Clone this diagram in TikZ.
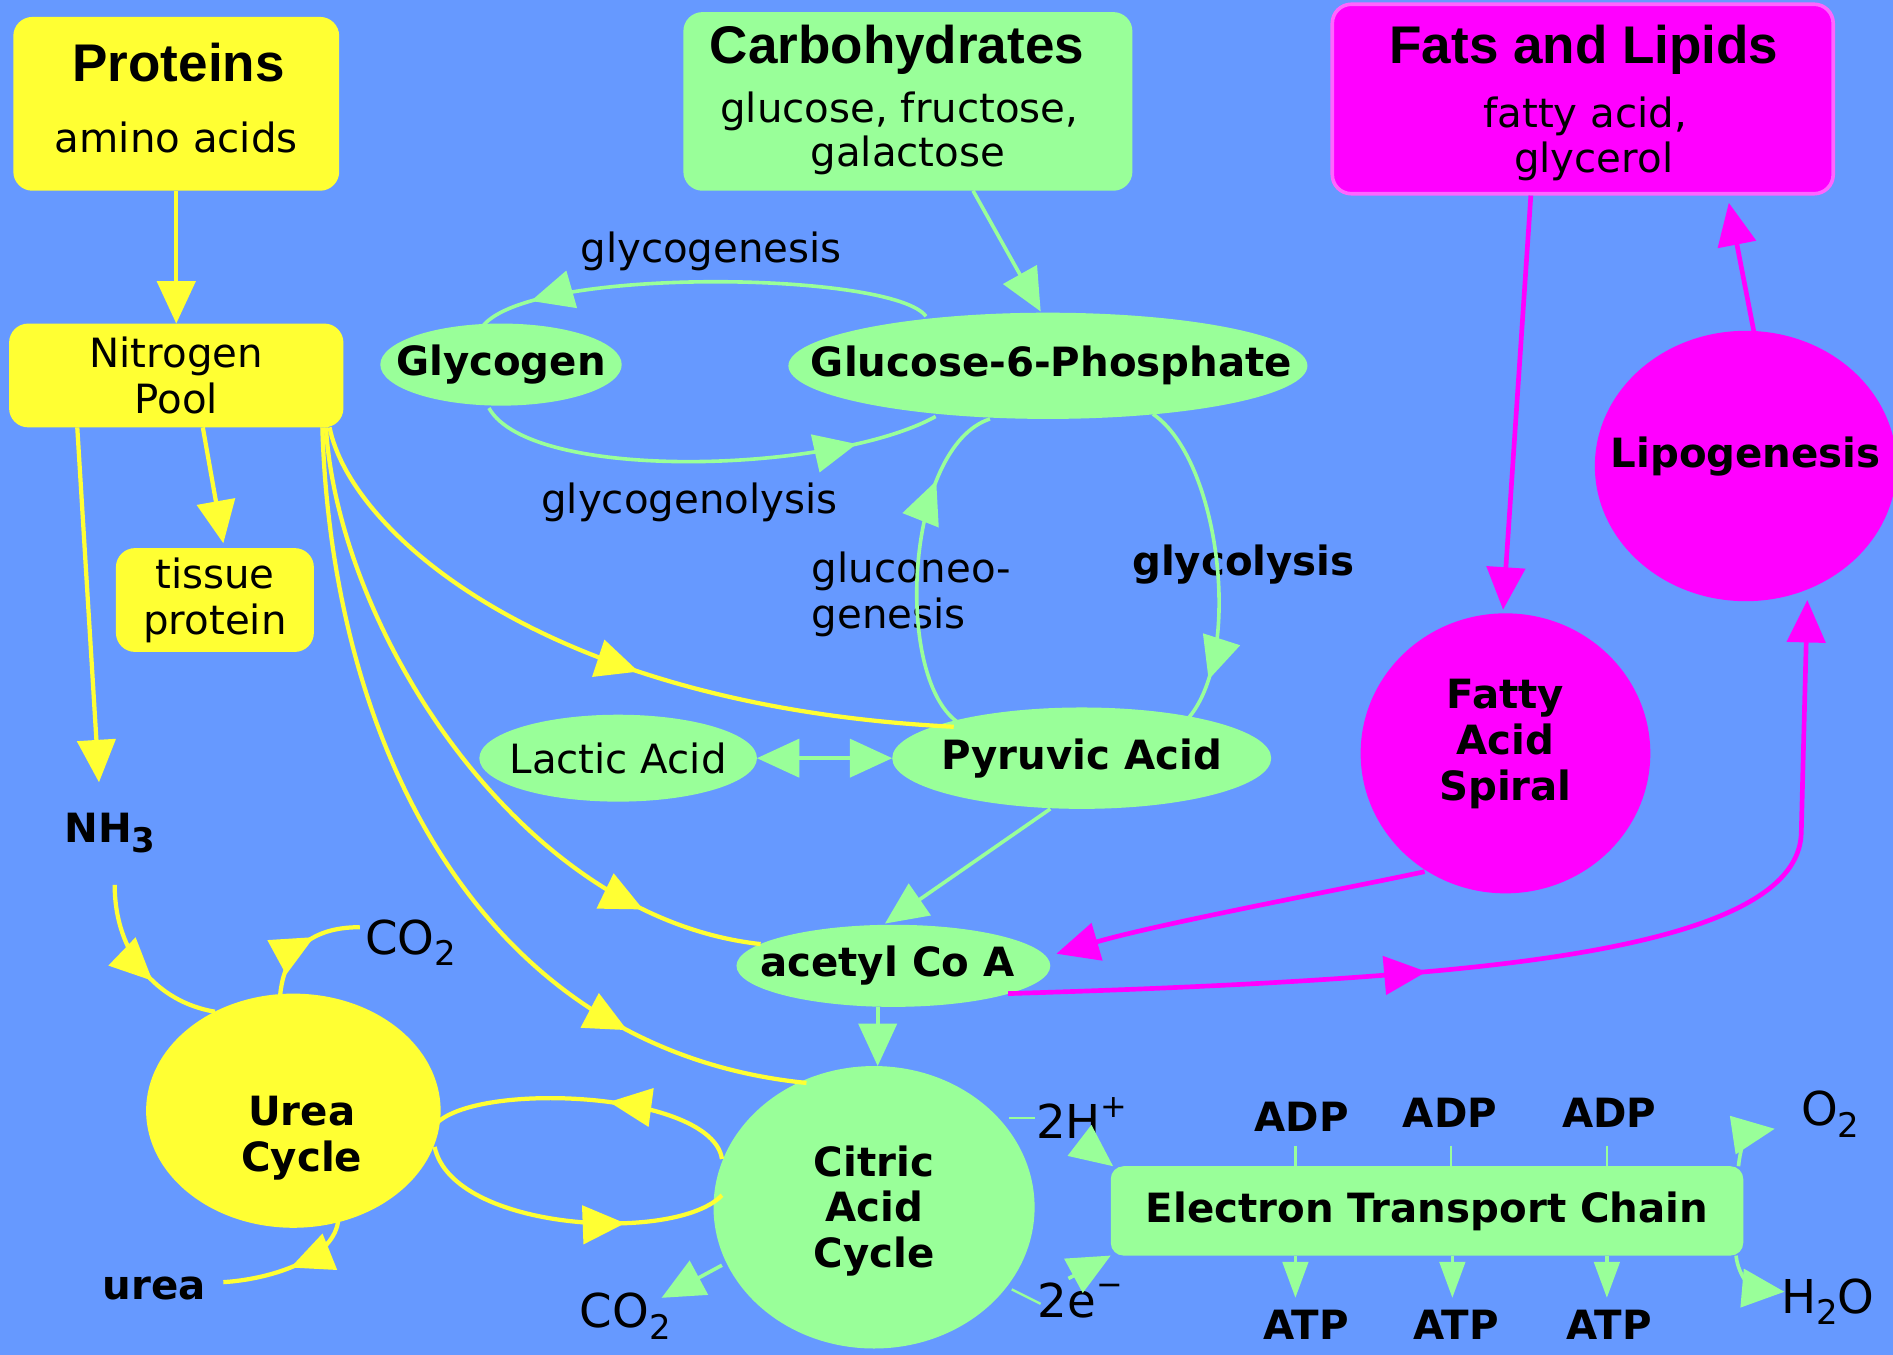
\documentclass[tikz,border=0pt]{standalone}
\usepackage{fontspec}
\setmainfont{DejaVu Sans}
\newfontfamily\headfont{Liberation Sans}
\usetikzlibrary{arrows.meta,decorations.markings,shapes.geometric}
\definecolor{bg}{RGB}{102,153,255}
\definecolor{grn}{RGB}{153,255,153}
\definecolor{yel}{RGB}{255,255,51}
\definecolor{mag}{RGB}{255,0,255}
\definecolor{magb}{RGB}{255,102,255}
\newcommand\rfnt{\fontsize{19}{21.6}\selectfont}
\newcommand\ffnt{\fontsize{22}{24}\selectfont}
\newcommand\bfnt{\fontsize{19}{21.6}\selectfont\bfseries}
\newcommand\hfnt{\headfont\fontsize{25}{28}\selectfont\bfseries}
\newcommand\mysub[1]{\raisebox{-0.45ex}{\fontsize{16}{16}\selectfont #1}}
\newcommand\mysup[1]{\raisebox{0.85ex}{\fontsize{15}{15}\selectfont #1}}
\tikzset{
  Tip/.tip={Triangle[length=20pt,width=18pt]},
  STip/.tip={Triangle[length=17pt,width=12pt]},
  yl/.style={color=yel,line width=2pt},
  gl/.style={color=grn,line width=1.7pt},
  ml/.style={color=mag,line width=2.2pt},
  thinl/.style={color=grn,line width=1.1pt},
  endarr/.style={-Tip},
  midarr/.style={postaction={decorate},decoration={markings,mark=at position #1 with {\arrow{Tip}}}},
  ell/.style={ellipse,inner sep=0pt,outer sep=0pt},
  rbox/.style={rectangle,rounded corners=9pt,inner sep=0pt,outer sep=0pt,align=center},
  lbl/.style={inner sep=0pt,font=\rfnt},
  flbl/.style={inner sep=0pt,font=\ffnt},
  blbl/.style={inner sep=0pt,font=\bfnt},
  hd/.style={inner sep=0pt,font=\hfnt},
}
\begin{document}
\begin{tikzpicture}[x=0.02cm,y=-0.02cm]
\useasboundingbox (0,0) rectangle (1568,1122);
\clip (0,0) rectangle (1568,1122);
\fill[bg] (0,0) rectangle (1568,1122);

% boxes
\node[rbox,fill=yel,minimum width=5.4cm,minimum height=2.88cm] (proteins) at (146,86) {};
\node[rbox,fill=grn,minimum width=7.44cm,minimum height=2.96cm] (carbs) at (752,84) {};
\node[rbox,fill=mag,draw=magb,line width=1.7pt,minimum width=8.3cm,minimum height=3.14cm] (fats) at (1311,82) {};
\node[rbox,fill=yel,minimum width=5.54cm,minimum height=1.72cm,font=\rfnt] (npool) at (146,311) {Nitrogen\\Pool};
\node[rbox,fill=yel,minimum width=3.28cm,minimum height=1.72cm,font=\rfnt] (tissue) at (178,497) {tissue\\protein};
\node[rbox,fill=grn,rounded corners=6pt,minimum width=10.48cm,minimum height=1.48cm,font=\bfnt] (etc) at (1182,1003) {Electron Transport Chain};

% ellipses
\node[ell,fill=grn,minimum width=4cm,minimum height=1.36cm,label={[font=\bfnt]center:Glycogen}] (glycogen) at (415,302) {};
\node[ell,fill=grn,minimum width=8.6cm,minimum height=1.76cm,label={[font=\bfnt,xshift=0.06cm]center:Glucose-6-Phosphate}] (g6p) at (868,303) {};
\node[ell,fill=grn,minimum width=4.6cm,minimum height=1.44cm,label={[font=\rfnt]center:Lactic Acid}] (lactic) at (512,628) {};
\node[ell,fill=grn,minimum width=6.28cm,minimum height=1.68cm,label={[font=\bfnt]center:Pyruvic Acid}] (pyruvic) at (896,628) {};
\node[ell,fill=grn,minimum width=5.2cm,minimum height=1.36cm,label={[font=\bfnt,xshift=-0.1cm]center:acetyl Co A}] (acetyl) at (740,800) {};
\node[ell,fill=yel,minimum width=4.88cm,minimum height=3.88cm,label={[font=\bfnt,align=center,xshift=0.14cm,yshift=-0.46cm]center:Urea\\Cycle}] (urea) at (243,920) {};
\node[ell,fill=grn,minimum width=5.32cm,minimum height=4.68cm,label={[font=\bfnt,align=center,yshift=-0.06cm]center:Citric\\Acid\\Cycle}] (citric) at (724,1000) {};
\node[ell,fill=mag,minimum width=4.8cm,minimum height=4.64cm,label={[font=\bfnt,align=center,yshift=0.16cm]center:Fatty\\Acid\\Spiral}] (fas) at (1247,624) {};
\node[ell,fill=mag,minimum width=5.0cm,minimum height=4.48cm,label={[font=\bfnt,yshift=0.16cm]center:Lipogenesis}] (lipo) at (1446,386) {};

% texts
\node[hd] (proteins-h) at (148,52) {Proteins};
\node[lbl] (proteins-s) at (146,114) {amino acids};
\node[hd] (carbs-h) at (743,41) {Carbohydrates};
\node[lbl] (carbs-s1) at (745,92) {glucose, fructose,};
\node[lbl] (carbs-s2) at (752,129) {galactose};
\node[hd] (fats-h) at (1312,41) {Fats and Lipids};
\node[lbl] (fats-s1) at (1313,96) {fatty acid,};
\node[lbl] (fats-s2) at (1320,134) {glycerol};
\node[blbl] (nh3) at (91,690) {NH\mysub{3}};
\node[lbl] (glycogenesis) at (589,208) {glycogenesis};
\node[lbl] (glycogenolysis) at (571,416) {glycogenolysis};
\node[lbl,anchor=west,align=left] (gluconeo) at (672,492) {gluconeo-\\genesis};
\node[blbl] (glycolysis) at (1030,468) {glycolysis};
\node[flbl] (co2a) at (340,781) {CO\mysub{2}};
\node[blbl] (ureat) at (128,1067) {urea};
\node[flbl] (co2b) at (518,1090) {CO\mysub{2}};
\node[flbl] (h2) at (896,926) {2H\mysup{+}};
\node[flbl] (e2) at (895,1077) {2e\mysup{−}};
\node[blbl] (adp1) at (1078,925) {ADP};
\node[blbl] (adp2) at (1201,922) {ADP};
\node[blbl] (adp3) at (1333,922) {ADP};
\node[blbl] (atp1) at (1082,1097) {ATP};
\node[blbl] (atp2) at (1206,1097) {ATP};
\node[blbl] (atp3) at (1333,1097) {ATP};
\node[flbl] (o2) at (1516,923) {O\mysub{2}};
\node[flbl] (h2o) at (1514,1078) {H\mysub{2}O};

% yellow connectors
\draw[yl,endarr] (proteins.south) -- (npool.north);
\draw[yl,endarr] ([shift={(-82,43)}]npool.center) -- ([shift={(-9,-42)}]nh3.center);
\draw[yl,endarr] ([shift={(22,43)}]npool.center) -- ([shift={(7,-47)}]tissue.center);
\draw[yl,midarr=0.56] ([shift={(127,43)}]npool.center) .. controls (290,440) and (450,585) .. ([shift={(-106,-26)}]pyruvic.center);
\draw[yl,midarr=0.83] ([shift={(124,43)}]npool.center) .. controls (280,520) and (430,760) .. ([shift={(-110,-18)}]acetyl.center);
\draw[yl,midarr=0.79] ([shift={(121,43)}]npool.center) .. controls (275,620) and (400,870) .. ([shift={(-56,-103)}]citric.center);
\draw[yl,midarr=0.6] ([shift={(4,43)}]nh3.center) .. controls (95,790) and (130,830) .. ([shift={(-65,-82)}]urea.center);
\draw[yl,midarr=0.6] ([shift={(-11,-95)}]urea.center) .. controls (235,790) and (255,768) .. ([shift={(-42,-13)}]co2a.center);
\draw[yl,midarr=0.5] ([shift={(37,92)}]urea.center) .. controls (275,1045) and (220,1060) .. ([shift={(57,-5)}]ureat.center);
\draw[yl,midarr=0.43] ([shift={(-126,-40)}]citric.center) .. controls (590,905) and (400,895) .. ([shift={(119,10)}]urea.center);
\draw[yl,midarr=0.68] ([shift={(117,30)}]urea.center) .. controls (375,1020) and (560,1030) .. ([shift={(-126,-10)}]citric.center);

% green connectors
\draw[gl,endarr] ([shift={(54,74)}]carbs.center) -- ([shift={(-6,-45)}]g6p.center);
\draw[gl,midarr=0.88] ([shift={(-101,-41)}]g6p.center) .. controls (740,225) and (440,220) .. ([shift={(-15,-32)}]glycogen.center);
\draw[gl,midarr=0.82] ([shift={(-10,36)}]glycogen.center) .. controls (440,400) and (690,392) .. ([shift={(-93,42)}]g6p.center);
\draw[gl,midarr=0.87] ([shift={(87,40)}]g6p.center) .. controls (1010,380) and (1030,540) .. ([shift={(89,-34)}]pyruvic.center);
\draw[gl,midarr=0.75] ([shift={(-103,-30)}]pyruvic.center) .. controls (740,560) and (750,370) .. ([shift={(-48,44)}]g6p.center);
\draw[gl,Tip-Tip] (lactic.east) -- (pyruvic.west);
\draw[gl,endarr] ([shift={(-26,42)}]pyruvic.center) -- ([shift={(-7,-35)}]acetyl.center);
\draw[gl,endarr] ([shift={(-13,34)}]acetyl.center) -- ([shift={(3,-117)}]citric.center);
\draw[gl,endarr] ([shift={(-126,48)}]citric.center) -- ([shift={(30,-15)}]co2b.center);
\draw[thinl] ([shift={(112,-74)}]citric.center) -- ([shift={(-39,0)}]h2.center);
\draw[gl,endarr] ([shift={(0,20)}]h2.center) -- ([shift={(-260,-37)}]etc.center);
\draw[thinl] ([shift={(114,68)}]citric.center) -- ([shift={(-33,3)}]e2.center);
\draw[gl,endarr] ([shift={(-10,-18)}]e2.center) -- ([shift={(-262,37)}]etc.center);
\draw[thinl] ([shift={(-5,24)}]adp1.center) -- ([shift={(-109,-37)}]etc.center);
\draw[thinl] ([shift={(1,27)}]adp2.center) -- ([shift={(20,-37)}]etc.center);
\draw[thinl] ([shift={(-2,27)}]adp3.center) -- ([shift={(149,-37)}]etc.center);
\draw[gl,-STip] ([shift={(-109,37)}]etc.center) -- ([shift={(-9,-22)}]atp1.center);
\draw[gl,-STip] ([shift={(21,37)}]etc.center) -- ([shift={(-3,-22)}]atp2.center);
\draw[gl,-STip] ([shift={(149,37)}]etc.center) -- ([shift={(-2,-22)}]atp3.center);
\draw[gl,endarr] ([shift={(258,-37)}]etc.center) .. controls (1442,945) and (1450,938) .. ([shift={(-46,12)}]o2.center);
\draw[gl,endarr] ([shift={(256,37)}]etc.center) .. controls (1440,1060) and (1455,1068) .. ([shift={(-36,-8)}]h2o.center);

% magenta connectors
\draw[ml,endarr] ([shift={(-43,80)}]fats.center) -- ([shift={(-2,-119)}]fas.center);
\draw[ml,endarr] ([shift={(7,-110)}]lipo.center) -- ([shift={(121,86)}]fats.center);
\draw[ml,endarr] ([shift={(-67,98)}]fas.center) .. controls (1120,735) and (960,765) .. ([shift={(135,-10)}]acetyl.center);
\draw[ml,endarr,midarr=0.39] ([shift={(95,23)}]acetyl.center) .. controls (1000,818) and (1100,812) .. (1180,805) .. controls (1350,790) and (1490,760) .. (1492,690) -- ([shift={(51,111)}]lipo.center);
\end{tikzpicture}
\end{document}
